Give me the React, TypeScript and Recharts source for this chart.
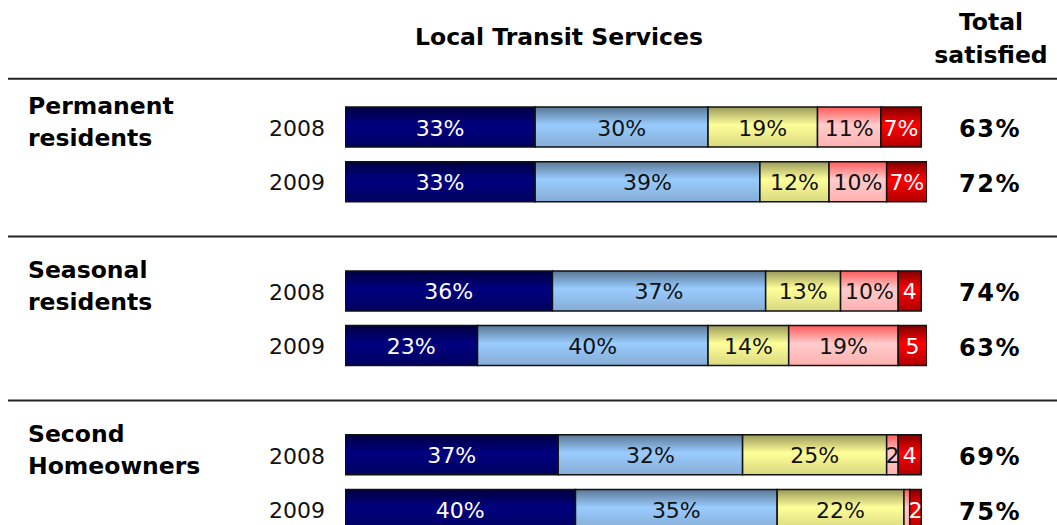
import React from 'react';
import { BarChart, Bar, XAxis, YAxis, LabelList } from 'recharts';

const groupNames = [
  ['Permanent', 'residents'],
  ['Seasonal', 'residents'],
  ['Second', 'Homeowners'],
];
const years = ['2008', '2009'];

// one value per bar: perm 2008, perm 2009, seasonal 2008, seasonal 2009, second 2008, second 2009
const verySatisfied = [33, 33, 36, 23, 37, 40];
const somewhatSatisfied = [30, 39, 37, 40, 32, 35];
const neutral = [19, 12, 13, 14, 25, 22];
const somewhatDissatisfied = [11, 10, 10, 19, 2, 1];
const veryDissatisfied = [7, 7, 4, 5, 4, 2];
const totalSatisfied = [63, 72, 74, 63, 69, 75];

const series = [
  { key: 'vs', values: verySatisfied, grad: 'gNavy', text: '#fff' },
  { key: 'ss', values: somewhatSatisfied, grad: 'gBlue', text: '#111' },
  { key: 'ne', values: neutral, grad: 'gYellow', text: '#111' },
  { key: 'sd', values: somewhatDissatisfied, grad: 'gPink', text: '#111' },
  { key: 'vd', values: veryDissatisfied, grad: 'gRed', text: '#fff' },
];

// build rows, with an empty spacer row between groups
const data: any[] = [];
groupNames.forEach((g, gi) => {
  if (gi > 0) data.push({ key: `gap${gi}`, gap: true });
  years.forEach((yr, yi) => {
    const i = gi * 2 + yi;
    const row: any = { key: `${gi}-${yr}`, group: gi, first: yi === 0, year: yr, total: totalSatisfied[i] };
    series.forEach(s => { row[s.key] = s.values[i]; });
    data.push(row);
  });
});

const FONT = '"DejaVu Sans", Verdana, sans-serif';

const RowTick = (props: any) => {
  const { y, payload, index } = props;
  const row = data.find(d => d.key === payload.value);
  if (!row) return null;
  if (row.gap) {
    return <line x1={8} x2={1057} y1={y} y2={y} stroke="#222" strokeWidth={2} />;
  }
  return (
    <g fontFamily={FONT}>
      {index === 0 && <line x1={8} x2={1057} y1={y - 48.5} y2={y - 48.5} stroke="#222" strokeWidth={2} />}
      {row.first && (
        <text x={28} y={y - 21} fontSize={23.5} fontWeight="bold" fill="#000" dominantBaseline="central">
          <tspan x={28}>{groupNames[row.group][0]}</tspan>
          <tspan x={28} dy={32}>{groupNames[row.group][1]}</tspan>
        </text>
      )}
      <text x={325} y={y + 1} fontSize={22} textAnchor="end" dominantBaseline="central" fill="#111">{row.year}</text>
      <text x={990} y={y + 2} fontSize={24} letterSpacing={1.5} fontWeight="bold" textAnchor="middle" dominantBaseline="central" fill="#000">
        {row.total}%
      </text>
    </g>
  );
};

const makeLabel = (color: string) => (props: any) => {
  const { x, y, width, height, value } = props;
  if (value == null || value < 2) return null;
  const txt = value >= 7 ? `${value}%` : `${value}`;
  return (
    <text
      x={x + width / 2}
      y={y + height / 2 + 1}
      fill={color}
      fontSize={22}
      fontFamily={FONT}
      textAnchor="middle"
      dominantBaseline="central"
    >
      {txt}
    </text>
  );
};

const grads = [
  { id: 'gNavy', dark: '#000040', mid: '#000080', end: '#000060' },
  { id: 'gBlue', dark: '#5a7896', mid: '#99ccff', end: '#86acd4' },
  { id: 'gYellow', dark: '#9a9a5a', mid: '#ffff99', end: '#d8d880' },
  { id: 'gPink', dark: '#ff5a5a', mid: '#ffcccc', end: '#ffb0b0' },
  { id: 'gRed', dark: '#800000', mid: '#ff0000', end: '#b00000' },
];

export default function App() {
  return (
    <div style={{ position: 'absolute', left: 0, top: 0, width: 1057, height: 525, overflow: 'hidden', background: '#fff', fontFamily: FONT }}>
      <div style={{ position: 'absolute', left: 559, top: 22, transform: 'translateX(-50%)', fontSize: 23.5, fontWeight: 'bold', whiteSpace: 'nowrap', lineHeight: '30px' }}>
        Local Transit Services
      </div>
      <div style={{ position: 'absolute', left: 991, top: 6, transform: 'translateX(-50%)', fontSize: 23.5, fontWeight: 'bold', textAlign: 'center', lineHeight: '33px', whiteSpace: 'nowrap' }}>
        Total<br />satisfied
      </div>
      <BarChart
        width={1057}
        height={557}
        data={data}
        layout="vertical"
        margin={{ top: 100, right: 130, left: 0, bottom: 20 }}
        barSize={40}
        style={{ position: 'absolute', left: 0, top: 0 }}
      >
        <defs>
          {grads.map(g => (
            <linearGradient key={g.id} id={g.id} x1="0" y1="0" x2="0" y2="1">
              <stop offset="0%" stopColor={g.dark} />
              <stop offset="45%" stopColor={g.mid} />
              <stop offset="100%" stopColor={g.end} />
            </linearGradient>
          ))}
        </defs>
        <XAxis type="number" domain={[0, 101]} allowDataOverflow hide />
        <YAxis
          type="category"
          dataKey="key"
          width={345}
          tickLine={false}
          axisLine={false}
          interval={0}
          tick={<RowTick />}
        />
        {series.map(s => (
          <Bar key={s.key} dataKey={s.key} stackId="a" fill={`url(#${s.grad})`} stroke="#111" strokeWidth={1.5} isAnimationActive={false}>
            <LabelList dataKey={s.key} content={makeLabel(s.text)} />
          </Bar>
        ))}
      </BarChart>
    </div>
  );
}
